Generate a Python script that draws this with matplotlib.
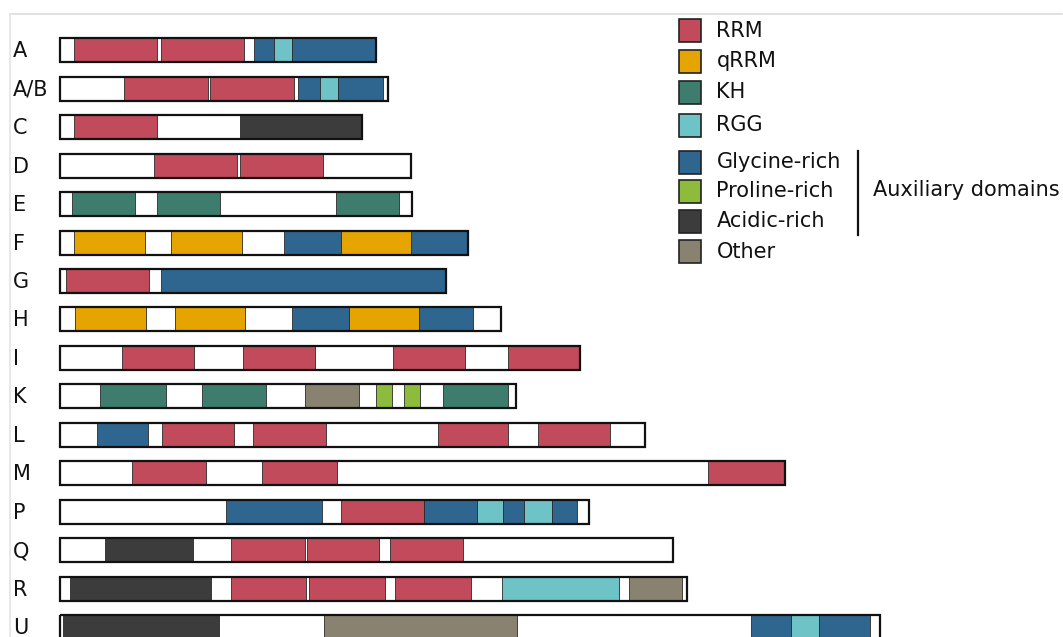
import matplotlib
matplotlib.use("Agg")
import matplotlib.pyplot as plt
from matplotlib.patches import Rectangle
from matplotlib.lines import Line2D

# ---------------- data ----------------
proteins = ["A", "A/B", "C", "D", "E", "F", "G", "H", "I", "K", "L", "M", "P", "Q", "R", "U"]
lengths = [316, 328, 302, 351, 352, 408, 385.5, 441, 520, 456, 585, 725, 529, 612.5, 626.5, 819.5]

dom_A = [(14, 97, "RRM"), (101, 184, "RRM"), (194, 214, "Glycine-rich"), (214, 232, "RGG"), (232, 316, "Glycine-rich")]
dom_AB = [(64, 147.5, "RRM"), (150, 233.5, "RRM"), (237.5, 260, "Glycine-rich"), (260, 278, "RGG"), (278, 322.5, "Glycine-rich")]
dom_C = [(14, 97, "RRM"), (180, 302, "Acidic-rich")]
dom_D = [(94, 176.5, "RRM"), (180, 263, "RRM")]
dom_E = [(11.5, 75, "KH"), (96.5, 160, "KH"), (275.5, 339, "KH")]
dom_F = [(14, 84.5, "qRRM"), (111, 181.5, "qRRM"), (224, 281, "Glycine-rich"), (281, 351, "qRRM"), (351, 408, "Glycine-rich")]
dom_G = [(6, 89, "RRM"), (101, 385.5, "Glycine-rich")]
dom_H = [(14.5, 86, "qRRM"), (114.5, 185, "qRRM"), (231.5, 289, "Glycine-rich"), (289, 359, "qRRM"), (359, 413, "Glycine-rich")]
dom_I = [(62, 134, "RRM"), (183, 255, "RRM"), (333, 404.5, "RRM"), (448, 520, "RRM")]
dom_K = [(40, 106, "KH"), (141.5, 206, "KH"), (244.5, 299, "Other"), (315.5, 332, "Proline-rich"), (344, 360, "Proline-rich"), (382.5, 447.5, "KH")]
dom_L = [(36.5, 88, "Glycine-rich"), (102, 174, "RRM"), (192.5, 265.5, "RRM"), (377.5, 448, "RRM"), (478, 550, "RRM")]
dom_M = [(71.5, 146, "RRM"), (201.5, 276.5, "RRM"), (648, 725, "RRM")]
dom_P = [(165.5, 261.5, "Glycine-rich"), (280.5, 363.5, "RRM"), (363.5, 416.5, "Glycine-rich"), (416.5, 442.5, "RGG"),
         (442.5, 464, "Glycine-rich"), (464, 491.5, "RGG"), (491.5, 517, "Glycine-rich")]
dom_Q = [(45, 132.5, "Acidic-rich"), (170.5, 244.5, "RRM"), (247, 319, "RRM"), (330, 402.5, "RRM")]
dom_R = [(9.5, 151, "Acidic-rich"), (170.5, 246, "RRM"), (249, 324.5, "RRM"), (335, 410.5, "RRM"), (441.5, 558.5, "RGG"), (568.5, 622, "Other")]
dom_U = [(2.5, 158.5, "Acidic-rich"), (263.5, 457, "Other"), (690.5, 731, "Glycine-rich"), (731, 758.5, "RGG"), (758.5, 810, "Glycine-rich")]
domains = [dom_A, dom_AB, dom_C, dom_D, dom_E, dom_F, dom_G, dom_H, dom_I, dom_K, dom_L, dom_M, dom_P, dom_Q, dom_R, dom_U]

legend_names = ["RRM", "qRRM", "KH", "RGG", "Glycine-rich", "Proline-rich", "Acidic-rich", "Other"]
legend_colors = ["#C14A5B", "#E6A400", "#3E7D6E", "#6EC3C7", "#2F6690", "#8DBB3C", "#3C3C3C", "#8A8270"]
colors = dict(zip(legend_names, legend_colors))
bracket_label = "Auxiliary domains"

# ---------------- layout ----------------
W, H = 1063, 637
fig = plt.figure(figsize=(W / 100, H / 100), dpi=100)
ax = fig.add_axes([0, 0, 1, 1])
x0 = 60.0
ax.set_xlim(-x0, W - x0)
ax.set_ylim(H, 0)
ax.axis("off")

row_top, row_step, bar_h = 50.3, 38.45, 24.0
fs = 15

for i, (name, length, doms) in enumerate(zip(proteins, lengths, domains)):
    yc = row_top + i * row_step
    ax.add_patch(Rectangle((0, yc - bar_h / 2), length, bar_h, facecolor="white", edgecolor="none", zorder=1))
    for s, e, t in doms:
        ax.add_patch(Rectangle((s, yc - bar_h / 2), e - s, bar_h, facecolor=colors[t],
                               edgecolor="#2a2a2a", linewidth=0.6, zorder=2))
    ax.add_patch(Rectangle((0, yc - bar_h / 2), length, bar_h, facecolor="none",
                           edgecolor="#111111", linewidth=1.6, zorder=3))
    ax.text(13 - x0, yc + 1, name, ha="left", va="center", fontsize=fs, color="#111111")

# legend
leg_y = [30.8, 61.3, 92.0, 125.3, 162.0, 191.3, 221.2, 251.5]
for name, col, yc in zip(legend_names, legend_colors, leg_y):
    ax.add_patch(Rectangle((679 - x0, yc - 11.5), 22, 23, facecolor=col, edgecolor="#222222", linewidth=1.2, zorder=3))
    ax.text(716.5 - x0, yc, name, ha="left", va="center", fontsize=fs, color="#111111")

ax.plot([858.3 - x0, 858.3 - x0], [151, 235], color="#111111", linewidth=1.6)
ax.text(872.7 - x0, 190, bracket_label, ha="left", va="center", fontsize=fs, color="#111111")

# faint frame
fig.add_artist(Line2D([10 / W, 1062 / W], [1 - 14 / H, 1 - 14 / H], color="#dcdcdc", linewidth=1.2))
fig.add_artist(Line2D([10 / W, 10 / W], [0, 1 - 14 / H], color="#e4e4e4", linewidth=1.2))

fig.savefig("out.png", dpi=100)
